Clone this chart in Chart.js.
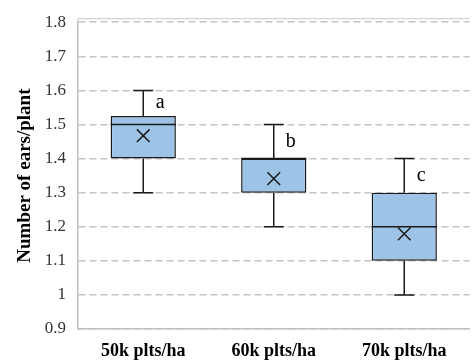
<!DOCTYPE html>
<html>
<head>
<meta charset="utf-8">
<script src="https://cdn.jsdelivr.net/npm/chart.js@4.4.1/dist/chart.umd.min.js"></script>
<style>
  html, body { margin: 0; padding: 0; background: #fff; overflow: hidden; }
  .wrap { width: 472px; height: 360px; overflow: hidden; }
  #chart { display: block; }
</style>
</head>
<body>
<div class="wrap"><canvas id="chart" width="480" height="360"></canvas></div>
<script>
// box plot values per planting density
const categories = ['50k plts/ha', '60k plts/ha', '70k plts/ha'];
const minValues = [1.3, 1.2, 1.0];
const q1Values = [1.4, 1.3, 1.1];
const medianValues = [1.5, 1.4, 1.2];
const q3Values = [1.525, 1.4, 1.3];
const maxValues = [1.6, 1.5, 1.4];
const meanValues = [1.467, 1.341, 1.179];
const groupLetters = ['a', 'b', 'c'];
const yTickLabels = ['0.9', '1', '1.1', '1.2', '1.3', '1.4', '1.5', '1.6', '1.7', '1.8'];

const serif = '"Liberation Serif", "Times New Roman", serif';

// whiskers, medians, letters, drawn with the chart's own scales
const boxPlotExtras = {
  id: 'boxPlotExtras',
  beforeDatasetsDraw(chart) {
    const { ctx, chartArea } = chart;
    const x = chart.scales.x;
    const y = chart.scales.y;
    ctx.save();
    // light frame line above the plot
    ctx.strokeStyle = '#c8c8c8';
    ctx.lineWidth = 1;
    ctx.beginPath();
    ctx.moveTo(chartArea.left, chartArea.top - 3.5);
    ctx.lineTo(chartArea.right, chartArea.top - 3.5);
    ctx.moveTo(chartArea.left, chartArea.top - 3.5);
    ctx.lineTo(chartArea.left, chartArea.top);
    ctx.stroke();

    ctx.strokeStyle = '#1a1a1a';
    ctx.lineWidth = 1.5;
    categories.forEach((c, i) => {
      const cx = x.getPixelForValue(i);
      const capHalf = 10;
      ctx.beginPath();
      ctx.moveTo(cx, y.getPixelForValue(minValues[i]));
      ctx.lineTo(cx, y.getPixelForValue(q1Values[i]));
      ctx.moveTo(cx, y.getPixelForValue(q3Values[i]));
      ctx.lineTo(cx, y.getPixelForValue(maxValues[i]));
      ctx.moveTo(cx - capHalf, y.getPixelForValue(minValues[i]));
      ctx.lineTo(cx + capHalf, y.getPixelForValue(minValues[i]));
      ctx.moveTo(cx - capHalf, y.getPixelForValue(maxValues[i]));
      ctx.lineTo(cx + capHalf, y.getPixelForValue(maxValues[i]));
      ctx.stroke();
    });
    ctx.restore();
  },
  afterDatasetDraw(chart, args) {
    if (args.meta.type !== 'bar') return;
    const { ctx } = chart;
    const y = chart.scales.y;
    ctx.save();
    ctx.strokeStyle = '#1a1a1a';
    ctx.lineWidth = 1.5;
    args.meta.data.forEach((bar, i) => {
      const py = y.getPixelForValue(medianValues[i]);
      ctx.beginPath();
      ctx.moveTo(bar.x - bar.width / 2, py);
      ctx.lineTo(bar.x + bar.width / 2, py);
      ctx.stroke();
    });
    ctx.restore();
  },
  afterDatasetsDraw(chart) {
    const { ctx } = chart;
    const x = chart.scales.x;
    const y = chart.scales.y;
    ctx.save();
    ctx.fillStyle = '#000';
    ctx.font = '20px ' + serif;
    ctx.textAlign = 'center';
    ctx.textBaseline = 'middle';
    groupLetters.forEach((letter, i) => {
      const cx = x.getPixelForValue(i) + 17;
      const cy = y.getPixelForValue((maxValues[i] + q3Values[i]) / 2);
      ctx.fillText(letter, cx, cy);
    });
    ctx.restore();
  }
};

const ctx = document.getElementById('chart').getContext('2d');
const boxChart = new Chart(ctx, {
  data: {
    labels: categories,
    datasets: [
      {
        type: 'bar',
        label: 'IQR',
        data: q1Values.map((q1, i) => [q1, q3Values[i]]),
        backgroundColor: '#9dc3e6',
        borderColor: '#1a1a1a',
        borderWidth: 1.5,
        borderSkipped: false,
        barPercentage: 0.5,
        categoryPercentage: 1,
        order: 2
      },
      {
        type: 'line',
        label: 'mean',
        data: meanValues,
        showLine: false,
        pointStyle: 'crossRot',
        pointRadius: 9,
        pointBorderWidth: 1.5,
        pointBorderColor: '#1a1a1a',
        pointBackgroundColor: '#1a1a1a',
        order: 1
      }
    ]
  },
  options: {
    responsive: false,
    animation: false,
    devicePixelRatio: 1,
    layout: { padding: { top: 19, right: 2, left: 0, bottom: 0 } },
    plugins: {
      legend: { display: false },
      tooltip: { enabled: false }
    },
    scales: {
      x: {
        grid: { display: false, drawTicks: false },
        border: { display: true, color: '#bfbfbf', width: 1.5 },
        ticks: {
          color: '#000',
          padding: 12,
          font: { family: serif, size: 18, weight: 'bold' }
        },
        afterFit(scale) { scale.height = 31; }
      },
      y: {
        min: 0.9,
        max: 1.8,
        ticks: {
          stepSize: 0.1,
          padding: 12,
          color: '#333',
          font: { family: serif, size: 17 },
          callback: (value, index) => yTickLabels[index]
        },
        grid: { color: '#c4c4c4', lineWidth: 1.5, drawTicks: false },
        border: { color: '#bfbfbf', width: 1.5, dash: [7, 4] },
        title: {
          display: true,
          text: 'Number of ears/plant',
          color: '#000',
          padding: { top: 14, bottom: 0 },
          font: { family: serif, size: 19, weight: 'bold' }
        },
        afterFit(scale) { scale.width = 78; }
      }
    }
  },
  plugins: [boxPlotExtras]
});
</script>
</body>
</html>
